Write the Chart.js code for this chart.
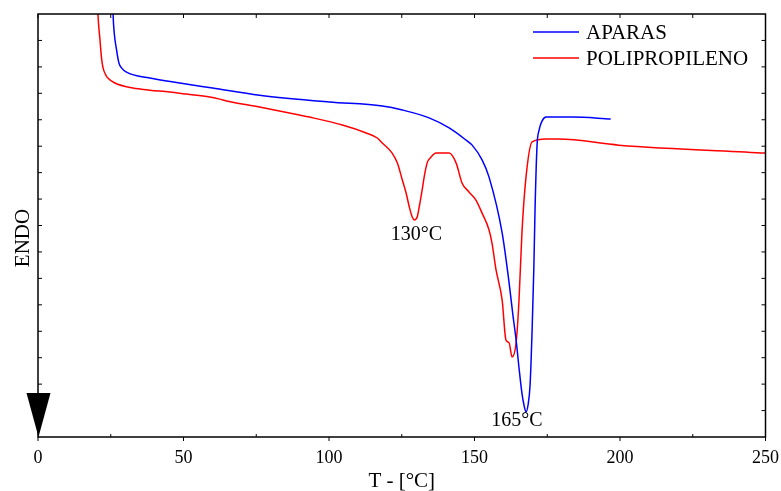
<!DOCTYPE html>
<html>
<head>
<meta charset="utf-8">
<script src="https://cdn.jsdelivr.net/npm/chart.js@4/dist/chart.umd.min.js"></script>
<style>
  html, body { margin: 0; padding: 0; background: #fff; }
  #wrap { width: 781px; height: 491px; }
</style>
</head>
<body>
<div id="wrap"><canvas id="dscChart" width="781" height="491"></canvas></div>
<script>
// APARAS (blue) - temperature and heat flow (arbitrary units)
const aparasT = [25.6, 25.8, 26.2, 27.0, 27.8, 28.7, 30.4, 38.4, 48.7, 60.0, 76.1, 100.1, 118.3, 125.2, 134.4, 141.3, 147.1, 149.2,
  152.6, 155.0, 159.5, 161.9, 163.2, 164.3, 165.3, 166.3, 167.0, 167.7, 168.4, 169.1, 169.8, 170.4, 170.8, 171.5, 172.2, 173.2,
  174.6, 183.5, 196.8];
const aparasY = [17.0, 16.0, 15.28, 14.64, 14.15, 13.96, 13.80, 13.58, 13.39, 13.20, 12.93, 12.67, 12.52, 12.37, 12.07, 11.69, 11.23, 11.04,
  10.48, 9.83, 7.72, 5.82, 4.61, 3.67, 2.61, 1.66, 1.21, 0.95, 1.21, 1.97, 4.05, 6.43, 8.59, 11.04, 11.61, 11.95,
  12.10, 12.10, 12.03];

// POLIPROPILENO (red)
const ppT = [20.3, 20.6, 21.3, 21.8, 22.3, 23.3, 24.0, 26.4, 32.6, 38.4, 45.3, 51.1, 59.0, 62.4, 64.8, 76.1, 89.8, 93.3, 104.6,
  112.8, 116.6, 118.3, 121.7, 123.5, 125.2, 126.5, 127.6, 128.6, 129.3, 130.3, 131.0, 132.0, 132.7, 133.7, 135.1, 136.8,
  141.3, 143.7, 145.7, 148.1, 150.5, 152.6, 155.0, 156.0, 157.4, 159.5, 160.8, 161.9, 162.9, 164.3, 165.3, 166.3, 167.7,
  169.8, 174.6, 179.0, 199.6, 250.0];
const ppY = [17.0, 16.0, 15.02, 14.37, 13.99, 13.69, 13.58, 13.39, 13.20, 13.12, 13.05, 12.97, 12.86, 12.78, 12.71, 12.48, 12.18, 12.10, 11.80,
  11.50, 11.31, 11.12, 10.74, 10.36, 9.72, 9.23, 8.70, 8.32, 8.21, 8.32, 8.70, 9.34, 9.83, 10.36, 10.59, 10.74,
  10.74, 10.36, 9.61, 9.27, 8.96, 8.47, 7.83, 7.34, 6.32, 5.18, 3.67, 3.56, 3.03, 3.56, 5.18, 7.72, 9.83,
  11.16, 11.27, 11.27, 11.04, 10.74];

// peak labels
const peakText = ['130°C', '165°C'];
const peakT = [130.0, 164.6];
const peakY = [7.64, 0.61];

const xTickLabels = [0, 50, 100, 150, 200, 250];

const serif = '"Liberation Serif", "Times New Roman", serif';

function toPoints(xs, ys) {
  return xs.map((x, i) => ({ x: x, y: ys[i] }));
}

// frame, inner ticks, arrow, ENDO, peak labels, legend
const decorations = {
  id: 'decorations',
  afterDatasetsDraw(chart) {
    const c = chart.ctx;
    const a = chart.chartArea;
    const xs = chart.scales.x;
    const ys = chart.scales.y;
    c.save();
    c.strokeStyle = '#000';
    c.lineWidth = 1.5;
    c.strokeRect(a.left, a.top, a.right - a.left, a.bottom - a.top);

    c.lineWidth = 1;
    c.beginPath();
    for (let t = 0; t <= 250; t += 25) {
      const px = xs.getPixelForValue(t);
      if (t % 50 === 0) {
        c.moveTo(px, a.bottom); c.lineTo(px, a.bottom + 4);
      } else {
        c.moveTo(px, a.bottom); c.lineTo(px, a.bottom - 3);
      }
      c.moveTo(px, a.top); c.lineTo(px, a.top + 4);
    }
    for (let v = 1; v < 16; v++) {
      const py = ys.getPixelForValue(v);
      c.moveTo(a.left, py); c.lineTo(a.left + 4, py);
      c.moveTo(a.right, py); c.lineTo(a.right - 4, py);
    }
    c.stroke();

    // ENDO arrow
    c.fillStyle = '#000';
    c.beginPath();
    c.moveTo(a.left - 11.5, a.bottom - 44);
    c.lineTo(a.left + 12.5, a.bottom - 44);
    c.lineTo(a.left + 0.5, a.bottom);
    c.closePath();
    c.fill();

    c.font = '21px ' + serif;
    c.textAlign = 'center';
    c.textBaseline = 'middle';

    // y axis title
    c.save();
    c.translate(22, 238);
    c.rotate(-Math.PI / 2);
    c.fillText('ENDO', 0, 1);
    c.restore();

    // peak labels
    c.font = '20px ' + serif;
    peakText.forEach((txt, i) => {
      c.fillText(txt, xs.getPixelForValue(peakT[i]), ys.getPixelForValue(peakY[i]));
    });

    // legend
    c.font = '21px ' + serif;
    c.textAlign = 'left';
    chart.data.datasets.forEach((ds, i) => {
      const y = 32 + i * 26;
      c.strokeStyle = ds.borderColor;
      c.lineWidth = 1.5;
      c.beginPath();
      c.moveTo(533, y); c.lineTo(579, y);
      c.stroke();
      c.fillStyle = '#000';
      c.fillText(ds.label, 586, y + 1);
    });
    c.restore();
  }
};

new Chart(document.getElementById('dscChart').getContext('2d'), {
  type: 'line',
  data: {
    datasets: [
      {
        label: 'APARAS',
        data: toPoints(aparasT, aparasY),
        borderColor: '#0000ff',
        borderWidth: 1.5,
        pointRadius: 0,
        cubicInterpolationMode: 'monotone',
        fill: false
      },
      {
        label: 'POLIPROPILENO',
        data: toPoints(ppT, ppY),
        borderColor: '#ff0000',
        borderWidth: 1.5,
        pointRadius: 0,
        cubicInterpolationMode: 'monotone',
        fill: false
      }
    ]
  },
  plugins: [decorations],
  options: {
    responsive: false,
    animation: false,
    layout: { padding: { top: 14, right: 14, left: 0, bottom: 0 } },
    plugins: {
      legend: { display: false },
      tooltip: { enabled: false }
    },
    scales: {
      x: {
        type: 'linear',
        min: 0,
        max: 250,
        afterFit: s => { s.height = 54; },
        afterBuildTicks: s => { s.ticks = xTickLabels.map(v => ({ value: v })); },
        grid: { display: false },
        border: { display: false },
        ticks: {
          color: '#000',
          padding: 2,
          maxRotation: 0,
          font: { family: serif, size: 18 }
        },
        title: {
          display: true,
          text: 'T - [°C]',
          color: '#000',
          font: { family: serif, size: 21, lineHeight: 1 },
          padding: { top: 0, bottom: -1 }
        }
      },
      y: {
        min: 0,
        max: 16,
        afterFit: s => { s.width = 38; },
        grid: { display: false },
        border: { display: false },
        ticks: { display: false }
      }
    }
  }
});
</script>
</body>
</html>
